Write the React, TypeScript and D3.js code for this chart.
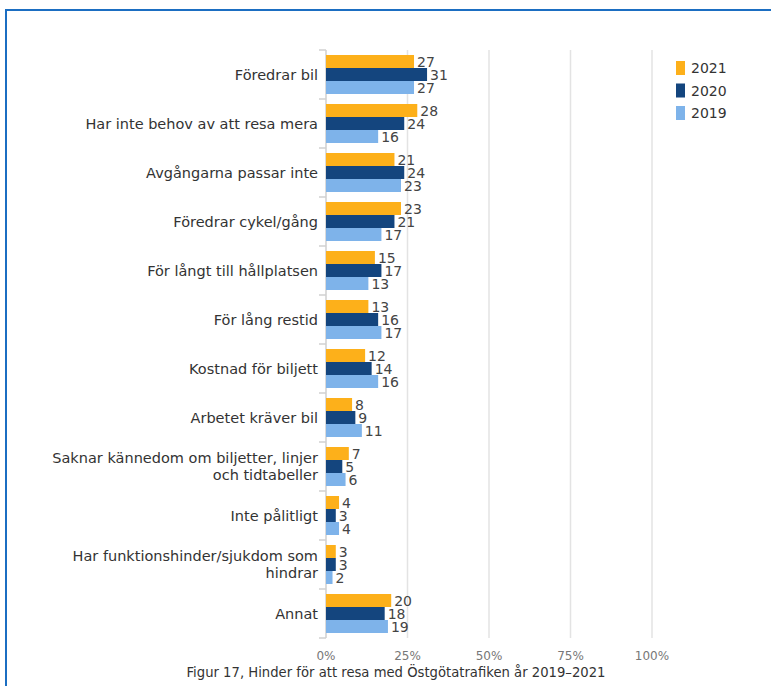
import React from "react";
import * as d3 from "d3";

const categories: string[][] = [
  ["Föredrar bil"],
  ["Har inte behov av att resa mera"],
  ["Avgångarna passar inte"],
  ["Föredrar cykel/gång"],
  ["För långt till hållplatsen"],
  ["För lång restid"],
  ["Kostnad för biljett"],
  ["Arbetet kräver bil"],
  ["Saknar kännedom om biljetter, linjer", "och tidtabeller"],
  ["Inte pålitligt"],
  ["Har funktionshinder/sjukdom som", "hindrar"],
  ["Annat"],
];
const years = ["2021", "2020", "2019"];
const v2021 = [27, 28, 21, 23, 15, 13, 12, 8, 7, 4, 3, 20];
const v2020 = [31, 24, 24, 21, 17, 16, 14, 9, 5, 3, 3, 18];
const v2019 = [27, 16, 23, 17, 13, 17, 16, 11, 6, 4, 2, 19];
const ticks = [0, 25, 50, 75, 100];
const caption = "Figur 17, Hinder för att resa med Östgötatrafiken år 2019–2021";

const colors = ["#FDB01A", "#14457E", "#7EB3EA"];
const series = [v2021, v2020, v2019];
const FONT = "'DejaVu Sans', Verdana, sans-serif";

export default function App() {
  const W = 771, H = 686;
  const x = d3.scaleLinear().domain([0, 100]).range([326, 652]);
  const y = d3.scaleBand<number>().domain(categories.map((_, i) => i)).range([50, 638]).padding(0);
  const inner = d3.scaleBand<number>().domain([0, 1, 2]).range([5, y.bandwidth() - 5]).padding(0);
  const bands = d3.range(categories.length + 1).map((i) => 50 + i * y.bandwidth());

  return (
    <svg width={W} height={H} style={{ position: "absolute", left: 0, top: 0, background: "#fff" }} fontFamily={FONT}>
      <rect x={6} y={10} width={800} height={700} fill="none" stroke="#1B6EC2" strokeWidth={2} />
      {ticks.map((t) => (
        <line key={"g" + t} x1={x(t)} x2={x(t)} y1={50} y2={638} stroke={t === 0 ? "#cfcfcf" : "#e3e3e3"} strokeWidth={1.5} />
      ))}
      {bands.map((b, i) => (
        <line key={"t" + i} x1={319} x2={326} y1={b} y2={b} stroke="#d0d0d0" strokeWidth={1.5} />
      ))}
      {categories.map((lines, i) => {
        const cy = (y(i) as number) + y.bandwidth() / 2;
        const lh = 17.5;
        const start = cy - ((lines.length - 1) * lh) / 2;
        return (
          <g key={"c" + i}>
            {lines.map((ln, j) => (
              <text key={j} x={318} y={start + j * lh} dy="0.35em" textAnchor="end" fontSize={14.5} fill="#333">
                {ln}
              </text>
            ))}
            {series.map((s, k) => {
              const by = (y(i) as number) + (inner(k) as number);
              const bw = x(s[i]) - x(0);
              return (
                <g key={k}>
                  <rect x={x(0)} y={by} width={bw} height={inner.bandwidth()} fill={colors[k]} />
                  <text x={x(s[i]) + 3} y={by + inner.bandwidth() / 2} dy="0.38em" fontSize={14} fill="#444">
                    {s[i]}
                  </text>
                </g>
              );
            })}
          </g>
        );
      })}
      {ticks.map((t) => (
        <text key={"l" + t} x={x(t)} y={660} textAnchor="middle" fontSize={12} fill="#777">
          {t}%
        </text>
      ))}
      {years.map((yr, k) => (
        <g key={yr}>
          <rect x={676} y={61 + k * 22.5} width={9} height={14} fill={colors[k]} />
          <text x={691} y={68 + k * 22.5} dy="0.38em" fontSize={14} fill="#333">
            {yr}
          </text>
        </g>
      ))}
      <text x={396} y={677} textAnchor="middle" fontSize={13.2} fill="#333">
        {caption}
      </text>
    </svg>
  );
}
